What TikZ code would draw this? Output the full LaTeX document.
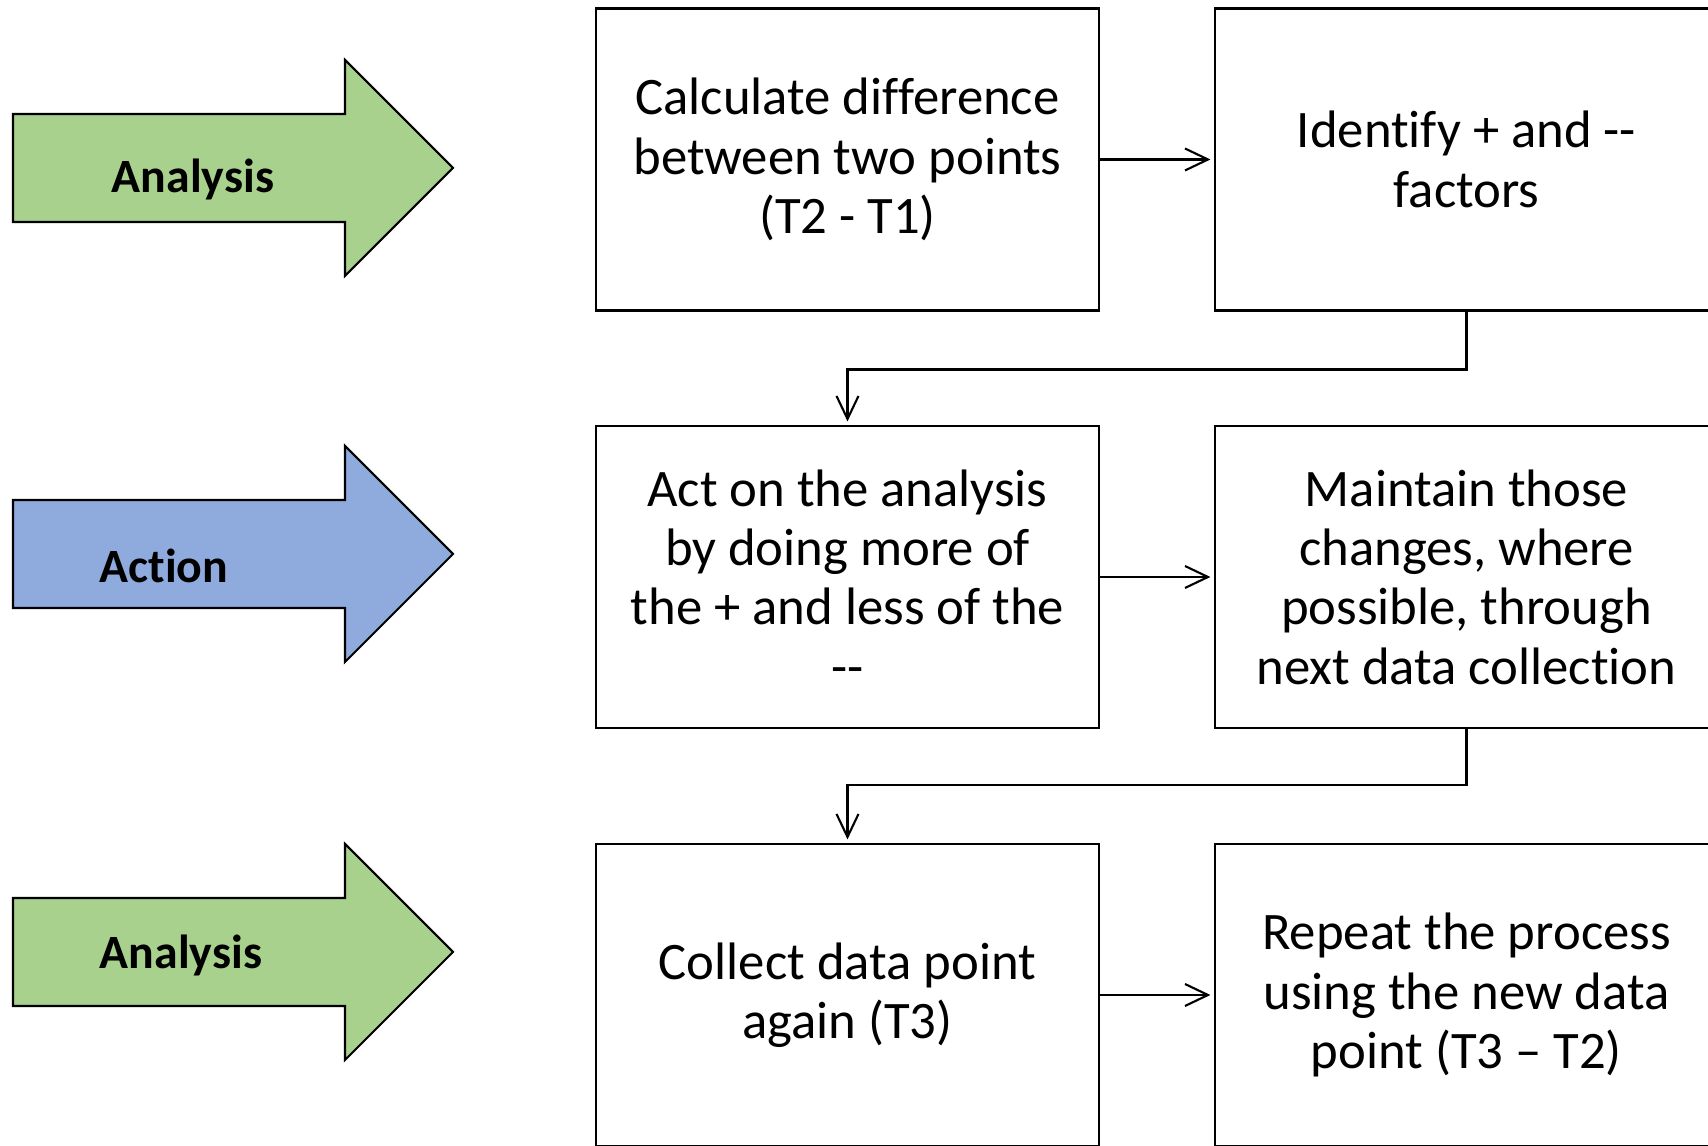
\documentclass[tikz,border=0pt]{standalone}
\usepackage{fontspec}
\setmainfont{Carlito}[Ligatures={TeXOff,NoCommon}]
\usetikzlibrary{arrows.meta}

\definecolor{anagreen}{HTML}{A9D18E}
\definecolor{actblue}{HTML}{8FAADC}

\begin{document}
\begin{tikzpicture}[
        box/.style={rectangle,draw,line width=0.6pt,minimum width=5.03cm,minimum height=3.02cm,
            align=center,font=\fontsize{15}{16.9}\selectfont},
        bigarrow/.style={draw,line width=0.6pt,line join=miter},
        lbl/.style={anchor=base,font=\fontsize{13.6}{16}\selectfont\bfseries},
        link/.style={line width=0.6pt,-{Straight Barb[length=2.3mm,width=2.2mm]},shorten >=1pt}
    ]
        \useasboundingbox (0,0) rectangle (17.08,11.46);

        \node[box] (Calc) at (8.475,9.865) {Calculate difference\\between two points\\(T2 - T1)};
        \node[box] (Ident) at (14.665,9.865) {Identify + and --\\factors};
        \node[box] (Act) at (8.475,5.69) {Act on the analysis\\by doing more of\\the + and less of the\\--};
        \node[box] (Maint) at (14.665,5.69) {Maintain those\\changes, where\\possible, through\\next data collection};
        \node[box] (Coll) at (8.475,1.51) {Collect data point\\again (T3)};
        \node[box] (Rep) at (14.665,1.51) {Repeat the process\\using the new data\\point (T3 – T2)};

        \draw[link] (Calc.east) -- (Ident.west);
        \draw[link] (Act.east) -- (Maint.west);
        \draw[link] (Coll.east) -- (Rep.west);
        \draw[link] (Ident.south) -- ++(0,-0.58) -| (Act.north);
        \draw[link] (Maint.south) -- ++(0,-0.56) -| (Coll.north);

        \draw[bigarrow,fill=anagreen] (0.13,9.24) -- (3.45,9.24) -- (3.45,8.70) -- (4.53,9.78)
            -- (3.45,10.86) -- (3.45,10.32) -- (0.13,10.32) -- cycle;
        \draw[bigarrow,fill=actblue] (0.13,5.38) -- (3.45,5.38) -- (3.45,4.84) -- (4.53,5.92)
            -- (3.45,7.00) -- (3.45,6.46) -- (0.13,6.46) -- cycle;
        \draw[bigarrow,fill=anagreen] (0.13,1.40) -- (3.45,1.40) -- (3.45,0.86) -- (4.53,1.94)
            -- (3.45,3.02) -- (3.45,2.48) -- (0.13,2.48) -- cycle;

        \node[lbl] (L1) at (1.93,9.53) {Analysis};
        \node[lbl] (L2) at (1.64,5.63) {Action};
        \node[lbl] (L3) at (1.81,1.77) {Analysis};

    \end{tikzpicture}
\end{document}
